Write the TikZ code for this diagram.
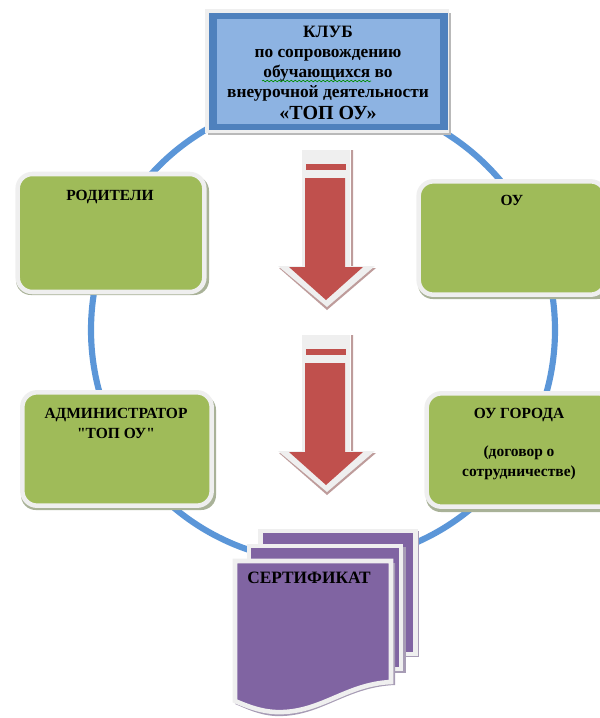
\documentclass[tikz,border=0pt]{standalone}
\usepackage{fontspec}
\setmainfont{Liberation Serif}
\newfontfamily\plainq{Liberation Serif}
\usetikzlibrary{decorations.pathmorphing,shapes.geometric}
\definecolor{ringblue}{HTML}{5B96D8}
\definecolor{boxblue}{HTML}{4F81BD}
\definecolor{lightblue}{HTML}{8DB3E2}
\definecolor{leaf}{HTML}{9FBB59}
\definecolor{plum}{HTML}{8064A2}
\definecolor{brick}{HTML}{C0504D}
\definecolor{edgewhite}{HTML}{EFEFEF}
\definecolor{shadegreen}{HTML}{A9B298}
\definecolor{shadeplum}{HTML}{A79CB5}
\definecolor{shadered}{HTML}{BE9C9B}
\tikzset{
  x=0.75pt,y=-0.75pt,
  ringline/.style={draw=ringblue,line width=4.6pt},
  greenbox/.style={draw=edgewhite,fill=leaf,line width=3.4pt,rounded corners=11pt},
  greenshadow/.style={fill=shadegreen,rounded corners=11pt},
  sheet/.style={draw=edgewhite,fill=plum,line width=3.4pt,line join=miter},
  sheetshadow/.style={fill=shadeplum},
  arrowbody/.style={fill=brick},
  arrowedge/.style={fill=edgewhite},
  arrowshadow/.style={fill=shadered},
  label/.style={font=\bfseries\fontsize{11.6}{15}\selectfont,align=center,inner sep=0pt,text=black},
}
\newcommand{\downarrowshape}[1]{%
  \begin{scope}[yshift=#1]
    \fill[arrowshadow] (351,150) -- (353,150) -- (353,268) -- (376,268) -- (327,310) -- (279,268) -- (351,268) -- cycle;
    \fill[arrowedge] (302,150) -- (350,150) -- (350,266) -- (375,266) -- (327,307) -- (278,266) -- (302,266) -- cycle;
    \fill[arrowbody] (306,164) rectangle (346,170);
    \fill[arrowbody] (305,178) -- (345,178) -- (345,267) -- (363,267) -- (326,300) -- (289,267) -- (305,267) -- cycle;
  \end{scope}}
\begin{document}
\begin{tikzpicture}
\useasboundingbox (0,0) rectangle (600,718);
% ring
\node[ringline,circle,minimum size=348pt,inner sep=0pt] (ring) at (323,330) {};
% top box
\fill[gray!55] (208,13) rectangle (451,135);
\fill[edgewhite] (205,9) rectangle (449,133);
\fill[boxblue] (209,13) rectangle (448,130);
\node[fill=lightblue,minimum width=167pt,minimum height=79pt,inner sep=0pt] (club) at (328.5,71.5) {};
\node[label,font=\bfseries\fontsize{13}{15}\selectfont] (clubtext) at (328,73) {{\fontsize{13}{15}\selectfont КЛУБ}\\по сопровождению\\обучающихся во\\внеурочной деятельности\\[2pt]{\fontsize{15}{15}\selectfont «ТОП ОУ»}};
\draw[green!55!black,line width=0.5pt,decorate,decoration={snake,amplitude=0.6pt,segment length=3pt}] (262,81) -- (371,81);
% arrows
\downarrowshape{0pt}
\downarrowshape{-138.75pt}
% green boxes
\fill[greenshadow] (16,176) rectangle (209,295);
\node[greenbox,minimum width=140pt,minimum height=88.5pt] (parents) at (111,233) {};
\node[label,anchor=north] (parentstext) at (110,190) {РОДИТЕЛИ};
\fill[greenshadow] (418,185) rectangle (612,299);
\node[greenbox,minimum width=140pt,minimum height=85pt] (school) at (512,238) {};
\node[label,anchor=north] (schooltext) at (512,195) {ОУ};
\fill[greenshadow] (426,397) rectangle (620,512);
\node[greenbox,minimum width=140pt,minimum height=85pt] (city) at (520,450) {};
\node[label] (citytext) at (519,444) {ОУ ГОРОДА\\[13pt](договор о\\сотрудничестве)};
\fill[greenshadow] (21,395) rectangle (216,510);
\node[greenbox,minimum width=142pt,minimum height=85pt] (admin) at (117,449) {};
\node[label] (admintext) at (116,423) {АДМИНИСТРАТОР\\{\plainq\bfseries"}ТОП ОУ{\plainq\bfseries"}};
% certificate
\fill[sheetshadow] (261,531) rectangle (419,657);
\node[sheet,minimum width=116pt,minimum height=92pt,inner sep=0pt] (sheetc) at (338,592.5) {};
\fill[sheetshadow] (249,547) rectangle (405.5,673);
\node[sheet,minimum width=114pt,minimum height=92pt,inner sep=0pt] (sheetb) at (325,607.5) {};
\fill[sheetshadow] (235,563) -- (395,563) -- (395,685) .. controls (345,687) and (320,718) .. (275,716) .. controls (258,715) and (245,708) .. (235,704) -- cycle;
\draw[sheet] (235,561) -- (391,561) -- (391,682) .. controls (345,684) and (320,714) .. (275,712) .. controls (258,711) and (245,705) .. (235,701) -- cycle;
\node[label,font=\bfseries\fontsize{13}{15}\selectfont,anchor=west] (certtext) at (247,578) {СЕРТИФИКАТ};
\end{tikzpicture}
\end{document}
